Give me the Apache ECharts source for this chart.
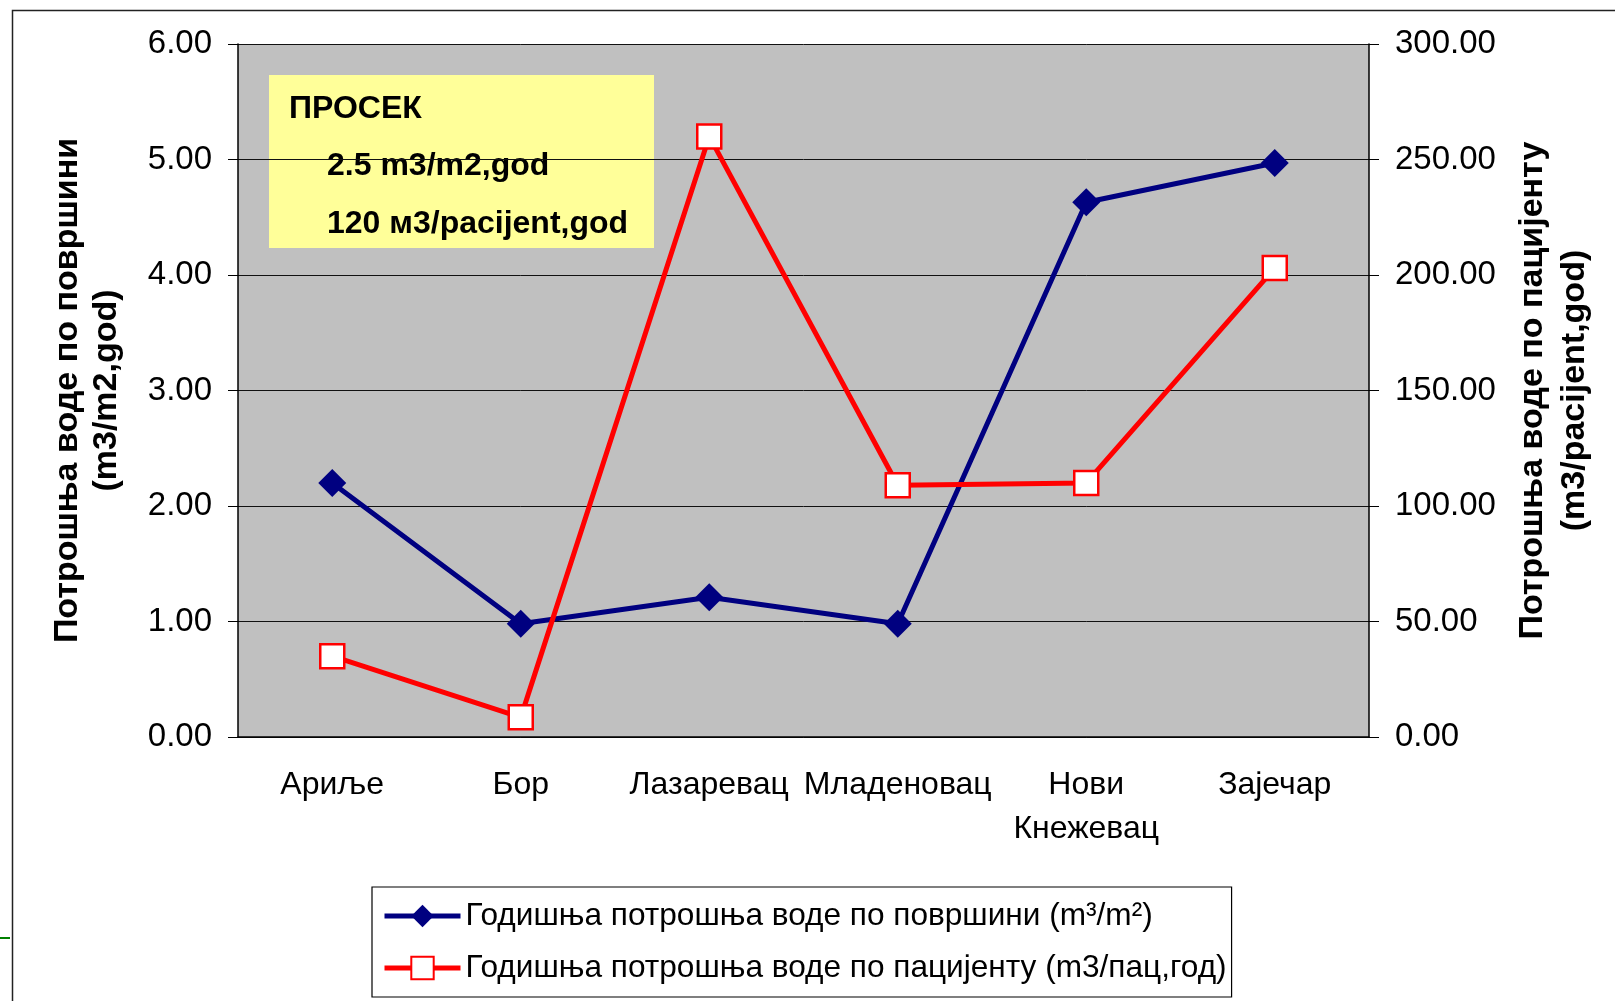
<!DOCTYPE html>
<html>
<head>
<meta charset="utf-8">
<script src="https://cdn.jsdelivr.net/npm/echarts@6/dist/echarts.min.js"></script>
<style>
  html, body { margin: 0; padding: 0; background: #fff; }
  #chart { width: 1615px; height: 1001px; }
</style>
</head>
<body>
<div id="chart"></div>
<script>
const categories = ["Ариље", "Бор", "Лазаревац", "Младеновац", "Нови\nКнежевац", "Зајечар"];
const perArea = [2.2, 0.98, 1.21, 0.98, 4.63, 4.97];
const perPatient = [35, 8.5, 260, 109, 110, 203];
const seriesNames = [
  "Годишња потрошња воде по површини (m³/m²)",
  "Годишња потрошња воде по пацијенту (m3/пац,год)",
];
const noteLines = ["ПРОСЕК", "2.5 m3/m2,god", "120 м3/pacijent,god"];

const font = "'Liberation Sans', Arial, sans-serif";

const chart = echarts.init(document.getElementById("chart"));

chart.setOption({
  animation: false,
  textStyle: { fontFamily: font, color: "#000" },
  grid: {
    left: 238,
    right: 246,
    top: 44,
    bottom: 264,
    show: true,
    backgroundColor: "#c0c0c0",
    borderWidth: 0,
  },
  legend: {
    orient: "vertical",
    left: 372,
    top: 887,
    padding: [13, 5, 13, 10],
    itemGap: 20,
    itemWidth: 76,
    itemHeight: 28,
    backgroundColor: "#fff",
    borderColor: "#000",
    borderWidth: 1.2,
    borderRadius: 0,
    lineStyle: { width: 5 },
    textStyle: { fontFamily: font, fontSize: 31.6, lineHeight: 31, color: "#000" },
    data: seriesNames,
  },
  xAxis: {
    type: "category",
    data: categories,
    axisLine: { lineStyle: { color: "#000", width: 1.5 } },
    axisTick: { length: 10, lineStyle: { color: "#000" } },
    axisLabel: { fontFamily: font, fontSize: 32, lineHeight: 44, color: "#000", margin: 26, interval: 0 },
  },
  yAxis: [
    {
      type: "value",
      min: 0,
      max: 6,
      interval: 1,
      name: "Потрошња воде по површини\n(m3/m2,god)",
      nameLocation: "middle",
      nameRotate: 90,
      nameGap: 112,
      nameTextStyle: { fontFamily: font, fontSize: 34, fontWeight: "bold", lineHeight: 39, color: "#000" },
      axisLine: { show: true, lineStyle: { color: "#000", width: 1.5 } },
      axisTick: { show: true, length: 10, lineStyle: { color: "#000" } },
      axisLabel: {
        fontFamily: font,
        fontSize: 33,
        color: "#000",
        margin: 26,
        formatter: (v) => v.toFixed(2),
      },
      splitLine: { show: true, lineStyle: { color: "#111", width: 1 } },
    },
    {
      type: "value",
      min: 0,
      max: 300,
      interval: 50,
      position: "right",
      name: "Потрошња воде по пацијенту\n(m3/pacijent,god)",
      nameLocation: "middle",
      nameRotate: 90,
      nameGap: 143,
      nameTextStyle: { fontFamily: font, fontSize: 34, fontWeight: "bold", lineHeight: 42, color: "#000" },
      axisLine: { show: true, lineStyle: { color: "#000", width: 1.5 } },
      axisTick: { show: true, length: 10, lineStyle: { color: "#000" } },
      axisLabel: {
        fontFamily: font,
        fontSize: 33,
        color: "#000",
        margin: 26,
        formatter: (v) => v.toFixed(2),
      },
      splitLine: { show: false },
    },
  ],
  series: [
    {
      name: seriesNames[0],
      type: "line",
      yAxisIndex: 0,
      data: perArea,
      symbol: "diamond",
      symbolSize: 28,
      lineStyle: { color: "#000080", width: 5 },
      itemStyle: { color: "#000080" },
      z: 3,
    },
    {
      name: seriesNames[1],
      type: "line",
      yAxisIndex: 1,
      data: perPatient,
      symbol: "rect",
      symbolSize: 24,
      lineStyle: { color: "#ff0000", width: 5 },
      itemStyle: { color: "#fff", borderColor: "#ff0000", borderWidth: 2.5 },
      z: 4,
    },
  ],
  graphic: [
    {
      type: "rect",
      left: 10,
      top: 8,
      shape: { width: 2000, height: 2000 },
      style: { fill: "none", stroke: "#222", lineWidth: 1.5 },
      silent: true,
      z: -10,
    },
    {
      type: "line",
      shape: { x1: 0, y1: 938, x2: 10, y2: 938 },
      style: { stroke: "#008000", lineWidth: 2 },
      silent: true,
    },
    {
      type: "group",
      left: 269,
      top: 75,
      z: 10,
      children: [
        {
          type: "rect",
          shape: { width: 385, height: 173 },
          style: { fill: "#ffff99" },
        },
        {
          type: "text",
          left: 20,
          top: 18,
          style: { text: noteLines[0], font: "bold 32px " + font, fill: "#000" },
        },
        {
          type: "text",
          left: 58,
          top: 75,
          style: { text: noteLines[1], font: "bold 32px " + font, fill: "#000" },
        },
        {
          type: "text",
          left: 58,
          top: 133,
          style: { text: noteLines[2], font: "bold 32px " + font, fill: "#000" },
        },
      ],
    },
  ],
});
</script>
</body>
</html>
